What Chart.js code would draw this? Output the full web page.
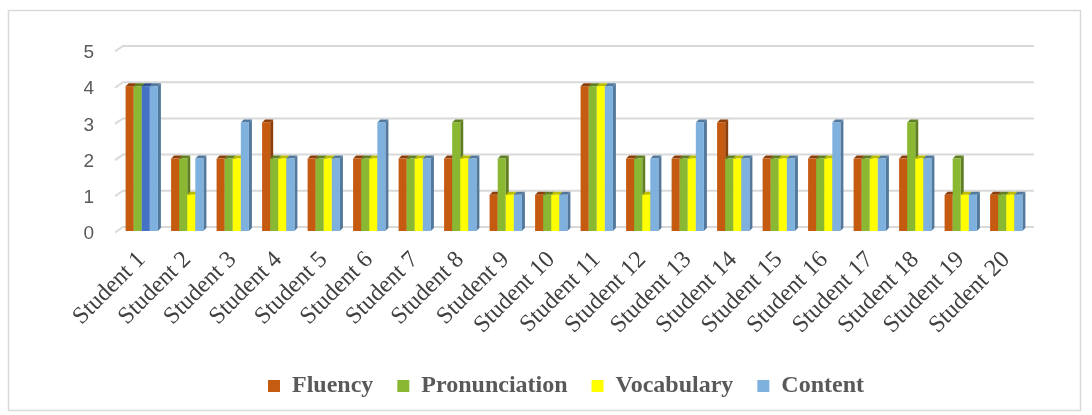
<!DOCTYPE html>
<html>
<head>
<meta charset="utf-8">
<script src="https://cdn.jsdelivr.net/npm/chart.js@4"></script>
<style>
  html, body { margin: 0; padding: 0; background: #fff; }
  #wrap { width: 1092px; height: 415px; }
</style>
</head>
<body>
<div id="wrap"><canvas id="scoreChart" width="1092" height="415"></canvas></div>
<script>
const students = ['Student 1', 'Student 2', 'Student 3', 'Student 4', 'Student 5', 'Student 6', 'Student 7',
  'Student 8', 'Student 9', 'Student 10', 'Student 11', 'Student 12', 'Student 13', 'Student 14',
  'Student 15', 'Student 16', 'Student 17', 'Student 18', 'Student 19', 'Student 20'];
const fluency       = [4, 2, 2, 3, 2, 2, 2, 2, 1, 1, 4, 2, 2, 3, 2, 2, 2, 2, 1, 1];
const pronunciation = [4, 2, 2, 2, 2, 2, 2, 3, 2, 1, 4, 2, 2, 2, 2, 2, 2, 3, 2, 1];
const vocabulary    = [4, 1, 2, 2, 2, 2, 2, 2, 1, 1, 4, 1, 2, 2, 2, 2, 2, 2, 1, 1];
const content       = [4, 2, 3, 2, 2, 3, 2, 2, 1, 1, 4, 2, 3, 2, 2, 3, 2, 2, 1, 1];
const yTicks = [0, 1, 2, 3, 4, 5];

// front / side colours
const shade = {
  '#C55A11': '#8C3F0B', '#8AB833': '#5F7F22', '#FFFF00': '#BDBD00',
  '#7FB1DE': '#52789C', '#4472C4': '#2E4F8C'
};
// vocabulary for Student 1 is drawn in a different blue in the original
const vocabColors = vocabulary.map((v, i) => i === 0 ? '#4472C4' : '#FFFF00');

const depth = 3;

const frame = {
  id: 'frame',
  beforeDraw(chart) {
    const ctx = chart.ctx;
    ctx.save();
    ctx.fillStyle = '#fff';
    ctx.fillRect(0, 0, chart.width, chart.height);
    ctx.strokeStyle = '#D9D9D9';
    ctx.lineWidth = 1.5;
    ctx.strokeRect(8.5, 10.5, 1072, 400);
    ctx.restore();
  },
  afterLayout(chart) {
    // legend sits a little left of the plot centre in the original
    chart.legend.left -= 8;
    chart.legend.right -= 8;
  }
};

const bars3d = {
  id: 'bars3d',
  beforeDatasetsDraw(chart) {
    const ctx = chart.ctx;
    const y = chart.scales.y;
    const a = chart.chartArea;
    ctx.save();
    // grid with a small slant at the left, like a 3-D back wall
    ctx.strokeStyle = '#D9D9D9';
    ctx.lineWidth = 2;
    yTicks.forEach(t => {
      const py = y.getPixelForValue(t);
      ctx.beginPath();
      ctx.moveTo(a.left - 4, py + 1.5);
      ctx.lineTo(a.left + 4, py - 4);
      ctx.lineTo(a.right + 5, py - 4);
      ctx.stroke();
    });
    chart.data.datasets.forEach((ds, di) => {
      const meta = chart.getDatasetMeta(di);
      meta.data.forEach((bar, i) => {
        const col = Array.isArray(ds.backgroundColor) ? ds.backgroundColor[i] : ds.backgroundColor;
        const dark = shade[col] || col;
        const l = bar.x - bar.width / 2, r = bar.x + bar.width / 2;
        const top = bar.y, base = bar.base;
        // right side
        ctx.fillStyle = dark;
        ctx.beginPath();
        ctx.moveTo(r, base);
        ctx.lineTo(r, top);
        ctx.lineTo(r + depth, top - depth);
        ctx.lineTo(r + depth, base - depth);
        ctx.closePath();
        ctx.fill();
        // top
        ctx.beginPath();
        ctx.moveTo(l, top);
        ctx.lineTo(l + depth, top - depth);
        ctx.lineTo(r + depth, top - depth);
        ctx.lineTo(r, top);
        ctx.closePath();
        ctx.fill();
        // front
        ctx.fillStyle = col;
        ctx.fillRect(l, top, r - l, base - top);
      });
    });
    ctx.restore();
    return false;
  }
};

new Chart(document.getElementById('scoreChart'), {
  type: 'bar',
  data: {
    labels: students,
    datasets: [
      { label: 'Fluency', data: fluency, backgroundColor: '#C55A11' },
      { label: 'Pronunciation', data: pronunciation, backgroundColor: '#8AB833' },
      { label: 'Vocabulary', data: vocabulary, backgroundColor: vocabColors },
      { label: 'Content', data: content, backgroundColor: '#7FB1DE' }
    ]
  },
  options: {
    responsive: false,
    animation: false,
    categoryPercentage: 0.71,
    barPercentage: 1,
    layout: { padding: { left: 0, right: 63, top: 50, bottom: 7 } },
    plugins: {
      tooltip: { enabled: false },
      legend: {
        position: 'bottom',
        fullSize: false,
        labels: {
          boxWidth: 12, boxHeight: 12, padding: 24, color: '#595959',
          font: { family: 'Liberation Serif', size: 24, weight: 'bold' },
          generateLabels(chart) {
            return chart.data.datasets.map((ds, i) => ({
              text: ds.label,
              fillStyle: i === 2 ? '#FFFF00' : ds.backgroundColor,
              strokeStyle: 'transparent', lineWidth: 0,
              fontColor: '#595959', datasetIndex: i
            }));
          }
        }
      }
    },
    scales: {
      x: {
        grid: { display: false },
        border: { display: false },
        ticks: {
          maxRotation: 45, minRotation: 45, padding: 7, color: '#404040',
          font: { family: 'Liberation Serif', size: 24 }
        },
        afterFit(s) { s.height = 119; }
      },
      y: {
        min: 0, max: 5,
        grid: { display: false, drawTicks: false },
        border: { display: false },
        ticks: {
          stepSize: 1, padding: 25, labelOffset: 3, color: '#595959',
          font: { family: 'Liberation Sans', size: 19 }
        },
        afterFit(s) { s.width = 119; }
      }
    }
  },
  plugins: [frame, bars3d]
});
</script>
</body>
</html>
